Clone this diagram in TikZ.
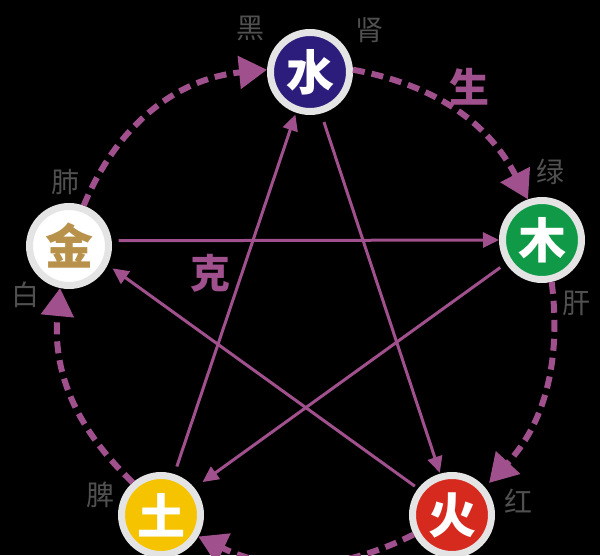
\documentclass[tikz,border=0pt]{standalone}
\usepackage{fontspec}
\newfontfamily\cjk{Noto Sans CJK SC}
\usetikzlibrary{arrows.meta}
\definecolor{arccol}{HTML}{A0508C}
\definecolor{ringcol}{HTML}{E4E4E4}
\definecolor{shuicol}{HTML}{2C1C7C}
\definecolor{mucol}{HTML}{109A48}
\definecolor{huocol}{HTML}{D62A1F}
\definecolor{tucol}{HTML}{F5C300}
\definecolor{goldcol}{HTML}{B8924A}
\definecolor{lblcol}{HTML}{505050}
\begin{document}
\begin{tikzpicture}[x=1pt,y=1pt,
  elem/.style={circle, draw=ringcol, line width=7pt, minimum size=79pt, inner sep=0pt,
    font=\cjk\bfseries\fontsize{48}{48}\selectfont, text=white},
  sheng/.style={draw=arccol, line width=6pt, dash pattern=on 12pt off 7pt,
    -{Triangle[length=28pt,width=32pt]}},
  ke/.style={draw=arccol, line width=3pt, -{Triangle[length=16pt,width=15pt]}},
  lab/.style={font=\cjk\fontsize{28}{28}\selectfont, text=lblcol},
  bigl/.style={font=\cjk\bfseries\fontsize{40}{40}\selectfont, text=arccol}]
\fill[black] (0,0) rectangle (600,555);
\useasboundingbox (0,0) rectangle (600,555);
\clip (0,0) rectangle (600,555);
% elements
\node[elem, fill=shuicol] (shui) at (310,483) {水};
\node[elem, fill=mucol] (mu) at (542,315) {木};
\node[elem, fill=huocol] (huo) at (452,40) {火};
\node[elem, fill=tucol] (tu) at (161,40) {土};
\node[elem, fill=white, text=goldcol] (jin) at (69,309) {金};
% labels
\node[lab] (l1) at (250,527) {黑};
\node[lab] (l2) at (369,525) {肾};
\node[lab] (l3) at (550,383) {绿};
\node[lab] (l4) at (576,252) {肝};
\node[lab] (l5) at (65,373) {肺};
\node[lab] (l6) at (25,260) {白};
\node[lab] (l7) at (100,60) {脾};
\node[lab] (l8) at (518,54) {红};
\node[bigl] (sh) at (469,468) {生};
\node[bigl] (ke) at (210,282) {克};
% sheng cycle
\draw[sheng] (jin.70) to[bend left=31] (shui.177);
\draw[sheng] (shui.3) to[bend left=26] (mu.109);
\draw[sheng, shorten >=6pt] (mu.283) to[bend left=25] (huo.40);
\draw[sheng] (huo.207) to[bend left=26] (tu.330);
\draw[sheng] (tu.131) to[bend left=26] (jin.258);
% ke star
\draw[ke, shorten <=7pt] (jin.7) -- (mu.180);
\draw[ke, shorten <=7pt, shorten >=10pt] (mu.213) -- (tu.39);
\draw[ke, shorten <=8pt, shorten >=2pt] (tu.72) -- (shui.251);
\draw[ke, shorten <=9pt, shorten >=1pt] (shui.285) -- (huo.106);
\draw[ke, shorten <=4pt, shorten >=6pt] (huo.142) -- (jin.334);
\end{tikzpicture}
\end{document}
